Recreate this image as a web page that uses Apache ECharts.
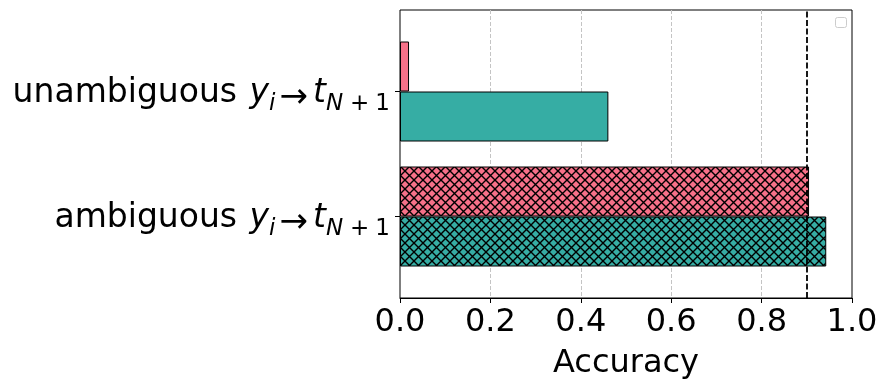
<!DOCTYPE html>
<html>
<head>
<meta charset="utf-8">
<script src="https://cdn.jsdelivr.net/npm/echarts@6/dist/echarts.min.js"></script>
<style>
html, body { margin: 0; padding: 0; background: #fff; }
#main { width: 889px; height: 390px; }
</style>
</head>
<body>
<div id="main"></div>
<script>
// data
var categories = ['ambiguous', 'unambiguous'];
var pinkValues = [0.905, 0.02];
var tealValues = [0.943, 0.461];
var hatched = [true, false];
var refValue = 0.9;

var FONT = 'DejaVu Sans';
var PINK = '#f77189';
var TEAL = '#36ada4';

// cross hatch ('xx') tile
function hatch(color) {
    var s = 9;
    var c = document.createElement('canvas');
    c.width = s; c.height = s;
    var g = c.getContext('2d');
    g.fillStyle = color;
    g.fillRect(0, 0, s, s);
    g.strokeStyle = '#000';
    g.lineWidth = 1.4;
    for (var k = -1; k <= 1; k++) {
        g.beginPath();
        g.moveTo(k * s, 0); g.lineTo(k * s + s, s);
        g.moveTo(k * s, s); g.lineTo(k * s + s, 0);
        g.stroke();
    }
    return { image: c, repeat: 'repeat' };
}

function barData(vals, color) {
    return vals.map(function (v, i) {
        return {
            value: v,
            itemStyle: { color: hatched[i] ? hatch(color) : color }
        };
    });
}

var myChart = echarts.init(document.getElementById('main'));

var txt = { fontSize: 33, fontFamily: FONT, color: '#000', lineHeight: 40, verticalAlign: 'top' };
var sub = { fontSize: 23, fontFamily: FONT, color: '#000', lineHeight: 23, padding: [16, 0, 0, 0], verticalAlign: 'top' };

var option = {
    animation: false,
    grid: [
        // frame + x axis
        { left: 400, right: 37, top: 10, bottom: 92, show: true, borderColor: '#000', borderWidth: 1, backgroundColor: 'transparent' },
        // bars
        { left: 400, right: 37, top: 29, bottom: 111 }
    ],
    xAxis: [
        {
            gridIndex: 0, type: 'value', min: 0, max: 1, interval: 0.2,
            name: 'Accuracy', nameLocation: 'middle', nameGap: 50,
            nameTextStyle: { fontSize: 32, fontFamily: FONT, color: '#000' },
            axisLine: { show: true, lineStyle: { color: '#000', width: 1 } },
            axisTick: { show: true, length: 5, lineStyle: { color: '#000' } },
            axisLabel: { fontSize: 32, fontFamily: FONT, color: '#000', margin: 9,
                formatter: function (v) { return v.toFixed(1); } },
            splitLine: { show: true, showMinLine: false, showMaxLine: false,
                lineStyle: { color: '#c4c4c4', type: [4, 2], width: 1 } }
        },
        { gridIndex: 1, type: 'value', min: 0, max: 1, show: false }
    ],
    yAxis: [
        { gridIndex: 0, type: 'value', min: 0, max: 1, show: false },
        {
            gridIndex: 1, type: 'category', data: categories,
            axisLine: { show: false },
            axisTick: { show: true, length: 5, alignWithLabel: true, lineStyle: { color: '#000' } },
            axisLabel: {
                margin: 10,
                padding: [10, 0, 0, 0],
                formatter: function (v) {
                    return '{n|' + v + ' }{y|y}{sbi|i}{ar|→}{it|t}{sbi|N}{pl|+}{sb|1}';
                },
                rich: {
                    n: txt,
                    y: Object.assign({}, txt, { fontStyle: 'italic', padding: [0, 0, 0, 2] }),
                    it: Object.assign({}, txt, { fontStyle: 'italic' }),
                    ar: Object.assign({}, txt, { fontSize: 34, lineHeight: 35, padding: [5, 5, 0, 4] }),
                    sb: sub,
                    sbi: Object.assign({}, sub, { fontStyle: 'italic' }),
                    pl: Object.assign({}, sub, { padding: [16, 6, 0, 7] })
                }
            }
        }
    ],
    series: [
        {
            name: 'pink', type: 'bar', xAxisIndex: 1, yAxisIndex: 1,
            barWidth: 50, barGap: '0%',
            itemStyle: { borderColor: '#000', borderWidth: 1 },
            data: barData(pinkValues, PINK)
        },
        {
            name: 'teal', type: 'bar', xAxisIndex: 1, yAxisIndex: 1,
            barWidth: 50, barGap: '0%',
            itemStyle: { borderColor: '#000', borderWidth: 1 },
            data: barData(tealValues, TEAL)
        },
        {
            type: 'line', xAxisIndex: 0, yAxisIndex: 0, data: [], z: 10,
            markLine: {
                silent: true, symbol: 'none',
                label: { show: false },
                lineStyle: { color: '#000', type: [6, 2.5], width: 1.8 },
                data: [{ xAxis: refValue }]
            }
        }
    ],
    graphic: [
        // empty legend frame
        { type: 'rect', left: 835, top: 17, shape: { width: 11, height: 10, r: 2 },
          style: { fill: '#fff', stroke: '#cccccc', lineWidth: 1 } }
    ]
};
myChart.setOption(option);
</script>
</body>
</html>
